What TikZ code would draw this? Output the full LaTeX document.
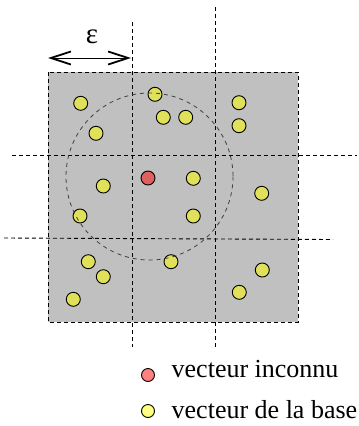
\documentclass[tikz,border=0pt]{standalone}
\usepackage{fontspec}
\setmainfont{Liberation Serif}
\usetikzlibrary{arrows.meta}
\definecolor{cellgrey}{RGB}{192,192,192}
\definecolor{dotyellow}{RGB}{224,224,90}
\definecolor{dotred}{RGB}{224,96,96}
\definecolor{legyellow}{RGB}{255,255,128}
\definecolor{legred}{RGB}{255,128,128}
\begin{document}
\begin{tikzpicture}[x=1pt,y=-1pt,
  gridline/.style={draw=black,line width=0.9pt,dash pattern=on 4pt off 3pt},
  circline/.style={draw=black!75,line width=0.8pt,dash pattern=on 4pt off 4pt},
  basedot/.style={circle,draw=black,line width=0.9pt,fill=dotyellow,minimum size=14pt,inner sep=0pt},
  unkdot/.style={circle,draw=black,line width=0.9pt,fill=dotred,minimum size=14pt,inner sep=0pt},
  legdot/.style={circle,draw=black,line width=0.9pt,minimum size=13pt,inner sep=0pt},
  legtext/.style={anchor=base west,inner sep=0pt,font=\fontsize{26}{30}\selectfont}]
\useasboundingbox (0,0) rectangle (359,426);
% grey area
\draw[gridline,fill=cellgrey] (48,72) rectangle (298,322);
% grid lines
\coordinate (v1t) at (132,22); \coordinate (v1b) at (132,347);
\coordinate (v2t) at (215,7);  \coordinate (v2b) at (215,347);
\coordinate (h1l) at (12,155); \coordinate (h1r) at (357,155);
\coordinate (h2l) at (4,238);  \coordinate (h2r) at (333,239.5);
\draw[gridline] (v1t) -- (v1b);
\draw[gridline] (v2t) -- (v2b);
\draw[gridline] (h1l) -- (h1r);
\draw[gridline] (h2l) -- (h2r);
% epsilon arrow
\coordinate (ea) at (48,58);
\coordinate (eb) at (131,58);
\draw[line width=1pt,{Straight Barb[length=20pt,width=13pt,line width=1.8pt]}-{Straight Barb[length=20pt,width=13pt,line width=1.8pt]}] (ea) -- (eb);
\node[inner sep=0pt,font=\fontsize{29}{32}\selectfont] (eps) at (92,37) {ε};
% unknown vector
\node[unkdot] (u) at (148,178) {};
% base dots
\node[basedot] (b1) at (80.7,103.3) {};
\node[basedot] (b2) at (96,133.3) {};
\node[basedot] (b3) at (155,94.3) {};
\node[basedot] (b4) at (163.3,117.3) {};
\node[basedot] (b5) at (185.7,117.3) {};
\node[basedot] (b6) at (239,102.7) {};
\node[basedot] (b7) at (239,125.7) {};
\node[basedot] (b8) at (103.3,186) {};
\node[basedot] (b9) at (193.3,178.3) {};
\node[basedot] (b10) at (261.7,193.3) {};
\node[basedot] (b11) at (80,216) {};
\node[basedot] (b12) at (193.3,216) {};
\node[basedot] (b13) at (88.3,261.7) {};
\node[basedot] (b14) at (103.3,276.7) {};
\node[basedot] (b15) at (73.3,299.3) {};
\node[basedot] (b16) at (171,261.7) {};
\node[basedot] (b17) at (262.3,270) {};
\node[basedot] (b18) at (239.3,292.3) {};
% dashed circle of radius epsilon (drawn over the dots)
\draw[circline] (149.5,176.5) circle[radius=83.5];
% legend
\node[legdot,fill=legred] (lr) at (148,375) {};
\node[legtext] (lrt) at (171.5,377) {vecteur inconnu};
\node[legdot,fill=legyellow] (ly) at (148,411) {};
\node[legtext] (lyt) at (171.5,418) {vecteur de la base};
\end{tikzpicture}
\end{document}
